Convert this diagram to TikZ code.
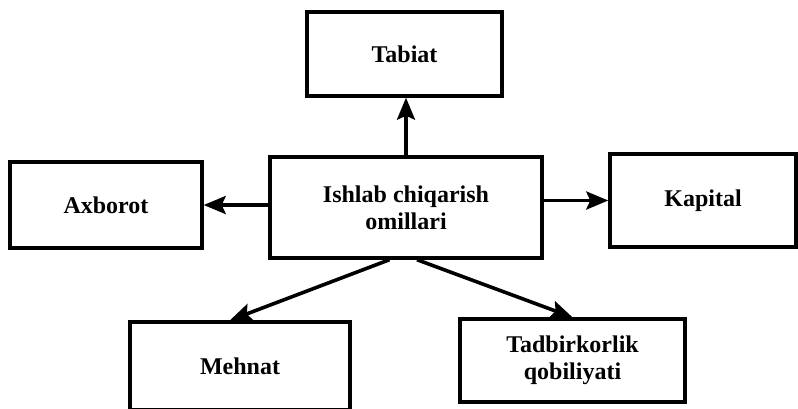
\documentclass[tikz,border=0pt]{standalone}
\usepackage{fontspec}
\setmainfont{Liberation Serif}
\usetikzlibrary{arrows.meta,calc}
\begin{document}
\begin{tikzpicture}[x=1bp,y=-1bp,
  box/.style={draw=black,line width=3.4bp,fill=white,inner sep=0pt,align=center,
    font=\fontsize{24bp}{27bp}\selectfont\bfseries},
  arr/.style={line width=3.6bp,-{Stealth[length=22bp,width=18bp,inset=4bp]}}]
\useasboundingbox (0,0) rectangle (798,408);
\clip (0,0) rectangle (798,408);
\node[box,minimum width=195bp,minimum height=84bp] (tab) at (404.5,54) {Tabiat};
\node[box,minimum width=192bp,minimum height=86bp] (ax) at (106,205) {Axborot};
\node[box,minimum width=272bp,minimum height=101bp] (c) at (406,207.5) {Ishlab chiqarish\\omillari};
\node[box,minimum width=186bp,minimum height=93bp] (kap) at (703,200.5) {Kapital};
\node[box,minimum width=220bp,minimum height=88bp] (meh) at (240,366) {Mehnat};
\node[box,minimum width=225bp,minimum height=83bp] (tad) at (572.5,360.5) {Tadbirkorlik\\qobiliyati};
\draw[arr] (c.north) -- (c.north |- tab.south);
\draw[arr] (c.west |- ax.east) -- (ax.east);
\draw[arr] (c.east |- kap.west) -- (kap.west);
\draw[arr] ($(c.south west)!0.44!(c.south east)$) -- ($(meh.north west)!0.455!(meh.north east)$);
\draw[arr] ($(c.south west)!0.54!(c.south east)$) -- (tad.north);
\end{tikzpicture}
\end{document}
